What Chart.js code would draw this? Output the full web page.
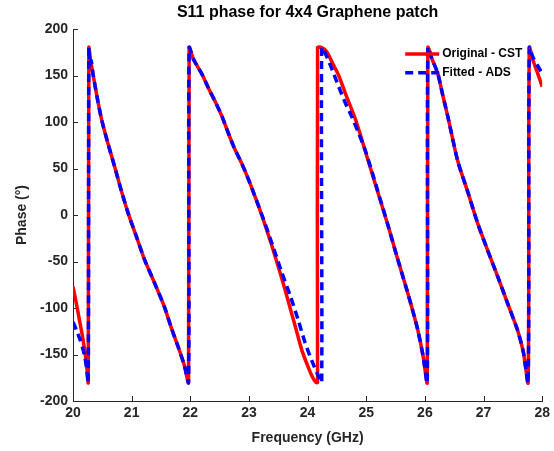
<!DOCTYPE html>
<html>
<head>
<meta charset="utf-8">
<script src="https://cdn.jsdelivr.net/npm/chart.js@4"></script>
<style>
html, body { margin: 0; padding: 0; background: #fff; }
</style>
</head>
<body>
<canvas id="phaseChart" width="554" height="451"></canvas>
<script>
// S11 phase (GHz / degrees)
const freqCST = [20.00, 20.06, 20.11, 20.16, 20.20, 20.23, 20.26, 20.27, 20.30, 20.34, 20.41, 20.49, 20.60, 20.71, 20.82, 20.94, 21.08, 21.22, 21.39, 21.56, 21.68, 21.80, 21.90, 21.97,
  21.98, 22.05, 22.12, 22.21, 22.32, 22.44, 22.54, 22.63, 22.75, 22.88, 23.00, 23.12, 23.25, 23.40, 23.55, 23.68, 23.80, 23.90, 24.00, 24.08, 24.14, 24.17,
  24.17, 24.24, 24.32, 24.42, 24.53, 24.66, 24.81, 24.92, 25.03, 25.20, 25.37, 25.52, 25.68, 25.78, 25.88, 25.97, 26.04,
  26.05, 26.12, 26.22, 26.30, 26.39, 26.56, 26.73, 26.90, 27.07, 27.24, 27.41, 27.58, 27.68, 27.76,
  27.78, 27.85, 27.93, 28.00];
const phaseCST = [-77, -96, -113, -130, -146, -160, -180, 180, 166, 152, 127, 102, 76, 52, 27, 2, -23, -48, -73, -99, -122, -143, -162, -180,
  180, 168, 160, 150, 135, 120, 106, 91, 72, 55, 37, 17, -6, -35, -66, -95, -122, -145, -162, -174, -180, -180,
  180, 180, 176, 164, 150, 128, 104, 82, 59, 24, -11, -44, -78, -100, -124, -152, -180,
  180, 168, 152, 130, 106, 58, 25, -9, -38, -66, -95, -124, -148, -180,
  180, 165, 151, 138];

const freqADS = [20.00, 20.06, 20.12, 20.16, 20.20, 20.23, 20.26, 20.27, 20.29, 20.31, 20.34, 20.41, 20.49, 20.60, 20.71, 20.82, 20.94, 21.08, 21.22, 21.39, 21.56, 21.68, 21.80, 21.90, 21.97,
  21.98, 22.05, 22.12, 22.21, 22.32, 22.44, 22.54, 22.63, 22.75, 22.88, 23.00, 23.12, 23.25, 23.40, 23.55, 23.71, 23.84, 23.96, 24.08, 24.19, 24.24,
  24.24, 24.30, 24.42, 24.53, 24.64, 24.75, 24.87, 24.98, 25.10, 25.20, 25.37, 25.52, 25.68, 25.78, 25.88, 25.97, 26.04,
  26.05, 26.12, 26.22, 26.30, 26.39, 26.56, 26.73, 26.90, 27.07, 27.24, 27.41, 27.58, 27.68, 27.76,
  27.78, 27.84, 27.92, 28.00];
const phaseADS = [-115, -124, -134, -142, -152, -164, -180, 180, 162, 166, 152, 127, 102, 76, 52, 27, 2, -23, -48, -73, -99, -122, -143, -162, -180,
  180, 168, 160, 150, 135, 120, 106, 91, 72, 55, 37, 17, -5, -32, -60, -88, -113, -138, -158, -174, -180,
  180, 174, 156, 138, 121, 106, 88, 70, 46, 25, -11, -44, -78, -100, -124, -152, -180,
  180, 168, 152, 130, 106, 58, 25, -9, -38, -66, -95, -124, -148, -180,
  180, 170, 161, 152];

const xTicks = [20, 21, 22, 23, 24, 25, 26, 27, 28];
const yTicks = [-200, -150, -100, -50, 0, 50, 100, 150, 200];

const FONT = '"Liberation Sans", Arial, sans-serif';
const AXIS_COLOR = '#262626';

Chart.defaults.font.family = FONT;

function toPoints(xs, ys) {
  return xs.map((x, i) => ({ x: x, y: ys[i] }));
}

// tick marks pointing into the plot, like MATLAB
const insideTicks = {
  id: 'insideTicks',
  beforeDatasetsDraw(chart) {
    const { ctx, chartArea: a, scales: { x, y } } = chart;
    ctx.save();
    ctx.strokeStyle = AXIS_COLOR;
    ctx.lineWidth = 1;
    ctx.beginPath();
    xTicks.forEach(v => {
      const px = Math.round(x.getPixelForValue(v)) + 0.5;
      ctx.moveTo(px, a.bottom);
      ctx.lineTo(px, a.bottom - 5);
    });
    yTicks.forEach(v => {
      const py = Math.round(y.getPixelForValue(v)) + 0.5;
      ctx.moveTo(a.left, py);
      ctx.lineTo(a.left + 5, py);
    });
    ctx.stroke();
    ctx.restore();
  }
};

// legend inside the top-right corner, no box
const insideLegend = {
  id: 'insideLegend',
  afterDatasetsDraw(chart) {
    const { ctx, chartArea: a } = chart;
    ctx.save();
    ctx.font = 'bold 12px ' + FONT;
    ctx.textBaseline = 'middle';
    chart.data.datasets.forEach((ds, i) => {
      const yy = a.top + 25 + i * 18.7;
      const x0 = a.right - 137;
      ctx.strokeStyle = ds.borderColor;
      ctx.lineWidth = ds.borderWidth;
      ctx.setLineDash(ds.borderDash || []);
      ctx.beginPath();
      ctx.moveTo(x0, yy);
      ctx.lineTo(x0 + 34, yy);
      ctx.stroke();
      ctx.setLineDash([]);
      ctx.fillStyle = '#000';
      ctx.fillText(ds.label, x0 + 37, yy);
    });
    ctx.restore();
  }
};

new Chart(document.getElementById('phaseChart'), {
  type: 'line',
  data: {
    datasets: [{
      label: 'Original - CST',
      data: toPoints(freqCST, phaseCST),
      borderColor: '#ff0000',
      borderWidth: 3.5,
      order: 1
    }, {
      label: 'Fitted - ADS',
      data: toPoints(freqADS, phaseADS),
      borderColor: '#0000ff',
      borderWidth: 3.5,
      borderDash: [8, 5],
      order: 0
    }]
  },
  options: {
    responsive: false,
    animation: false,
    parsing: false,
    elements: {
      point: { radius: 0 },
      line: { tension: 0.25, borderCapStyle: 'butt', borderJoinStyle: 'round' }
    },
    layout: { padding: { left: 0, right: 9, top: 0, bottom: 0 } },
    plugins: {
      legend: { display: false },
      tooltip: { enabled: false },
      title: {
        display: true,
        text: 'S11 phase for 4x4 Graphene patch',
        color: '#000',
        fullSize: false,
        font: { size: 16, weight: 'bold' },
        padding: { top: 3, bottom: 6.8 }
      }
    },
    scales: {
      x: {
        type: 'linear',
        min: 20,
        max: 28,
        afterBuildTicks: scale => { scale.ticks = xTicks.map(v => ({ value: v })); },
        afterFit: scale => { scale.height = 50; },
        grid: { drawOnChartArea: false, drawTicks: false },
        border: { display: true, color: AXIS_COLOR, width: 1 },
        ticks: { color: AXIS_COLOR, padding: 4, font: { size: 14, weight: 'bold' } },
        title: {
          display: true,
          text: 'Frequency (GHz)',
          color: AXIS_COLOR,
          font: { size: 14, weight: 'bold' },
          padding: { top: 0, bottom: 4 }
        }
      },
      y: {
        type: 'linear',
        min: -200,
        max: 200,
        afterBuildTicks: scale => { scale.ticks = yTicks.map(v => ({ value: v })); },
        afterFit: scale => { scale.width = 73; },
        grid: { drawOnChartArea: false, drawTicks: false },
        border: { display: true, color: AXIS_COLOR, width: 1 },
        ticks: { color: AXIS_COLOR, padding: 5, font: { size: 14, weight: 'bold' } },
        title: {
          display: true,
          text: 'Phase (°)',
          color: AXIS_COLOR,
          font: { size: 14, weight: 'bold' },
          padding: { top: 14, bottom: 0 }
        }
      }
    }
  },
  plugins: [insideTicks, insideLegend]
});
</script>
</body>
</html>
